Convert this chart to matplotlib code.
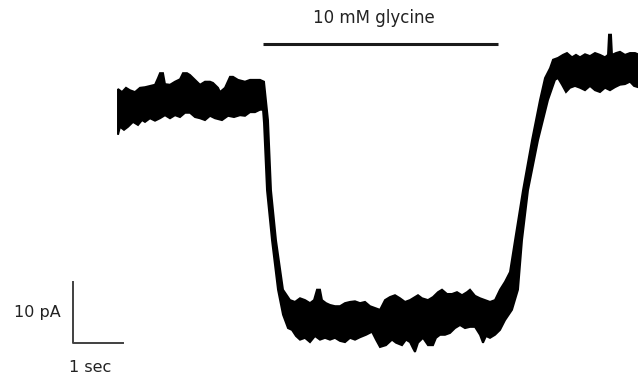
import numpy as np
import matplotlib
matplotlib.use("Agg")
import matplotlib.pyplot as plt

# upper edge of the noisy current band (time in s, current in pA)
t_top = [0.00, 0.08, 0.16, 0.24, 0.34, 0.44, 0.54, 0.64, 0.74, 0.80, 0.84, 0.90, 0.94,
         1.04, 1.14, 1.24, 1.30, 1.38, 1.44, 1.54, 1.64, 1.74, 1.84, 1.90, 2.00, 2.04,
         2.14, 2.24, 2.30, 2.40, 2.54, 2.64, 2.74, 2.84, 2.92,
         3.00, 3.06, 3.16, 3.30, 3.44,
         3.54, 3.64, 3.74, 3.84, 3.92, 3.98, 4.04, 4.08, 4.16, 4.24, 4.34, 4.44, 4.54,
         4.64, 4.74, 4.84, 4.94, 5.04, 5.14, 5.24, 5.34, 5.44, 5.54, 5.64, 5.74, 5.84,
         5.94, 6.00, 6.08, 6.20, 6.30, 6.40, 6.48, 6.58, 6.68, 6.78, 6.88, 6.98, 7.04,
         7.14, 7.24, 7.34, 7.44, 7.54,
         7.64, 7.74, 7.84, 7.94, 8.10, 8.28, 8.44, 8.54, 8.64, 8.70,
         8.80, 8.90, 8.98, 9.08, 9.16, 9.24, 9.34, 9.44, 9.54, 9.64, 9.74, 9.80, 9.82,
         9.86, 9.88, 9.96, 10.04, 10.14, 10.24, 10.34, 10.40]
i_top = [1.8, 1.3, 2.0, 1.6, 1.3, 2.0, 2.1, 2.3, 2.5, 3.6, 4.4, 4.4, 2.6,
         2.5, 3.0, 3.4, 4.4, 4.4, 4.1, 3.3, 2.5, 3.0, 3.0, 2.8, 2.0, 1.3,
         2.0, 3.8, 3.8, 3.3, 3.0, 3.3, 3.3, 3.3, 3.0,
         -3.3, -14.8, -23.0, -31.1, -32.8,
         -33.1, -32.5, -32.8, -33.3, -32.8, -31.1, -31.1, -32.8, -33.3, -33.6, -33.8, -33.8, -33.3,
         -33.1, -33.0, -33.3, -33.1, -33.8, -34.1, -34.4, -32.8, -32.3, -32.0, -32.5, -33.1, -32.8,
         -32.3, -32.0, -32.5, -32.8, -32.3, -31.5, -31.1, -31.8, -31.8, -31.5, -32.0, -31.5, -31.1,
         -32.1, -32.5, -32.8, -33.1, -32.8,
         -31.1, -29.8, -28.2, -23.0, -14.8, -6.6, 0.0, 3.6, 5.2, 6.6,
         6.9, 7.4, 7.7, 7.0, 7.4, 7.0, 7.5, 7.2, 7.7, 7.4, 7.0, 7.4, 10.7,
         10.7, 7.4, 7.7, 7.9, 7.4, 7.7, 7.7, 7.5]

# lower edge of the band
t_bot = [0.00, 0.04, 0.12, 0.20, 0.30, 0.40, 0.48, 0.54, 0.64, 0.74, 0.84, 0.94, 1.04,
         1.14, 1.24, 1.34, 1.44, 1.54, 1.64, 1.74, 1.84, 1.94, 2.08, 2.20, 2.32, 2.44,
         2.54, 2.64, 2.74, 2.84, 2.90,
         2.92, 2.98, 3.08, 3.20, 3.30, 3.40,
         3.48, 3.56, 3.64, 3.74, 3.84, 3.94, 4.04, 4.14, 4.24, 4.34, 4.44, 4.54, 4.64,
         4.74, 4.84, 4.96, 5.08, 5.16, 5.24, 5.36, 5.48, 5.56, 5.68, 5.76, 5.84, 5.90,
         5.94, 6.00, 6.10, 6.20, 6.30, 6.36, 6.44, 6.54, 6.64, 6.74, 6.84, 6.94, 7.04,
         7.14, 7.24, 7.30, 7.36, 7.44, 7.54, 7.64, 7.74, 7.88,
         8.00, 8.08, 8.20, 8.40, 8.60, 8.74,
         8.80, 8.88, 8.96, 9.04, 9.14, 9.24, 9.34, 9.44, 9.54, 9.64, 9.74, 9.84, 9.94,
         10.04, 10.14, 10.24, 10.32, 10.40]
i_bot = [-5.7, -4.4, -4.9, -4.4, -3.6, -4.1, -3.3, -3.6, -3.0, -3.4, -3.0, -2.5, -3.0,
         -2.5, -2.8, -2.1, -2.1, -2.8, -3.0, -3.3, -2.6, -3.0, -3.3, -2.6, -2.8, -2.5,
         -2.6, -2.0, -2.0, -1.6, -1.6,
         -3.8, -14.8, -23.0, -31.1, -35.2, -37.4,
         -37.7, -38.7, -39.3, -39.0, -39.7, -38.7, -39.3, -39.0, -39.3, -39.0, -39.5, -39.7, -39.0,
         -39.3, -38.9, -38.5, -38.0, -39.3, -40.5, -40.2, -39.3, -39.8, -40.2, -39.3, -39.7, -40.7,
         -41.3, -39.8, -39.0, -40.2, -40.2, -39.0, -38.5, -38.5, -38.2, -37.4, -36.9, -37.4, -37.2,
         -37.2, -38.5, -39.8, -38.7, -39.0, -38.5, -37.7, -36.1, -34.4,
         -31.1, -23.0, -14.8, -6.6, 0.0, 3.3,
         3.6, 2.5, 1.3, 2.0, 2.3, 2.0, 1.6, 2.3, 1.6, 1.3, 2.0, 1.6, 2.1,
         2.5, 2.6, 3.0, 2.3, 2.1]

# glycine application bar and scale bars
glycine_on, glycine_off = 2.90, 7.60
bar_level = 9.2
scale_t = 1.0    # sec
scale_i = 10.0   # pA

fig = plt.figure(figsize=(6.38, 3.76), dpi=100)
ax = fig.add_axes([0, 0, 1, 1])
ax.set_xlim(-2.36, 10.40)
ax.set_ylim(-45.25, 16.39)
ax.axis('off')

xs = np.concatenate([t_top, t_bot[::-1]])
ys = np.concatenate([i_top, i_bot[::-1]])
ax.fill(xs, ys, color='black', ec='black', lw=1.4, joinstyle='miter')

ax.plot([glycine_on, glycine_off], [bar_level, bar_level], color='#1a1a1a', lw=2.2,
        solid_capstyle='butt')
ax.text(5.12, 13.4, '10 mM glycine', ha='center', va='center',
        fontsize=12, color='#222222')

sx, sy = -0.90, -39.8
ax.plot([sx, sx, sx + scale_t], [sy + scale_i, sy, sy], color='#404040', lw=1.4)
ax.text(-1.62, -34.9, '10 pA', ha='center', va='center', fontsize=11.5, color='#222222')
ax.text(-0.56, -43.8, '1 sec', ha='center', va='center', fontsize=11.5, color='#222222')

fig.savefig('out.png', dpi=100)
